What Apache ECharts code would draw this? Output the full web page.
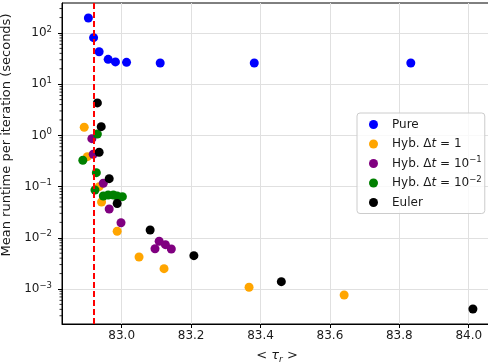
<!DOCTYPE html>
<html><head><meta charset="utf-8">
<script src="https://cdn.jsdelivr.net/npm/echarts@6/dist/echarts.min.js"></script>
<style>html,body{margin:0;padding:0;background:#fff}#c{width:488px;height:362px}</style>
</head><body><div id="c"></div>
<script>
// ---- data ----
const seriesNames = ['Pure', 'Hyb. Δt = 1', 'Hyb. Δt = 10^-1', 'Hyb. Δt = 10^-2', 'Euler'];
const pureX   = [82.904, 82.919, 82.935, 82.961, 82.982, 83.014, 83.111, 83.382, 83.833];
const pureY   = [196, 81, 43, 30.6, 27.2, 26.7, 25.9, 25.9, 25.9];
const hyb1X   = [82.892, 82.901, 82.935, 82.942, 82.987, 83.050, 83.122, 83.367, 83.641];
const hyb1Y   = [1.44, 0.384, 0.0995, 0.050, 0.0134, 0.00422, 0.00249, 0.00108, 0.000764];
const hyb01X  = [82.914, 82.918, 82.947, 82.964, 82.998, 83.096, 83.108, 83.126, 83.143];
const hyb01Y  = [0.863, 0.428, 0.116, 0.0365, 0.0197, 0.00612, 0.00855, 0.00733, 0.00604];
const hyb001X = [82.888, 82.930, 82.927, 82.923, 82.947, 82.961, 82.976, 82.987, 83.002];
const hyb001Y = [0.327, 1.06, 0.187, 0.0856, 0.0655, 0.0686, 0.0686, 0.0655, 0.0636];
const eulerX  = [82.930, 82.941, 82.935, 82.964, 82.987, 83.082, 83.208, 83.460, 84.012];
const eulerY  = [4.3, 1.48, 0.468, 0.1426, 0.0468, 0.0142, 0.00447, 0.00139, 0.000406];
const refLineX = 82.916;
const xTickValues = [83.0, 83.2, 83.4, 83.6, 83.8, 84.0];
const yTickValues = [1e-3, 1e-2, 1e-1, 1e0, 1e1, 1e2];
const colors = ['#0000ff', '#ffa500', '#800080', '#008000', '#000000'];

// ---- axes range ----
const xMin = 82.828, xMax = 84.067;
const yMin = 2.07e-4, yMax = 385;

function pairs(xs, ys) { return xs.map((x, i) => [x, ys[i]]); }
const seriesData = [pairs(pureX, pureY), pairs(hyb1X, hyb1Y), pairs(hyb01X, hyb01Y), pairs(hyb001X, hyb001Y), pairs(eulerX, eulerY)];

// minor tick positions of the log axis (2..9 x 10^k)
const minorTicks = [];
for (let k = -4; k <= 2; k++) for (let m = 2; m <= 9; m++) {
  const v = m * Math.pow(10, k);
  if (v > yMin && v < yMax) minorTicks.push([xMin, v]);
}

const FONT = 'DejaVu Sans';
const TXT = '#1a1a1a';
const legendRich = {
  n: { fontFamily: FONT, fontSize: 12, color: TXT, lineHeight: 16 },
  i: { fontFamily: FONT, fontSize: 12, fontStyle: 'italic', color: TXT, lineHeight: 16 },
  s: { fontFamily: FONT, fontSize: 8.5, color: TXT, lineHeight: 16, verticalAlign: 'top', padding: [0, 0, 7, 0] }
};
function legendLabel(name) {
  if (name === 'Pure' || name === 'Euler') return '{n|' + name + '}';
  const val = name.replace('Hyb. Δt = ', '');
  let tail;
  if (val.indexOf('^') >= 0) {
    const parts = val.split('^');
    tail = '{n| = ' + parts[0] + '}{s|' + parts[1].replace('-', '−') + '}';
  } else tail = '{n| = ' + val + '}';
  return '{n|Hyb. Δ}{i|t}' + tail;
}

const chart = echarts.init(document.getElementById('c'), null, { renderer: 'canvas' });
const series = seriesNames.map((name, idx) => ({
  name, type: 'scatter', data: seriesData[idx], symbol: 'circle', symbolSize: 9,
  itemStyle: { color: colors[idx], opacity: 1 }, z: 3 + idx,
  emphasis: { disabled: true }
}));
series.push({
  name: 'ref', type: 'scatter', data: [], silent: true, z: 10,
  markLine: {
    silent: true, symbol: 'none', label: { show: false },
    lineStyle: { color: '#ff0000', type: [6, 3], width: 2 },
    data: [{ xAxis: refLineX }], animation: false, z: 10
  }
});
series.push({
  name: 'minor', type: 'custom', data: minorTicks, silent: true, clip: false, z: 20,
  renderItem(params, api) {
    const p = api.coord([api.value(0), api.value(1)]);
    return { type: 'line', shape: { x1: p[0] - 2.5, y1: p[1], x2: p[0], y2: p[1] }, style: { stroke: '#000', lineWidth: 0.8 } };
  }
});

chart.setOption({
  animation: false,
  backgroundColor: '#fff',
  grid: { left: 62, top: 3, width: 430, height: 321, show: true, borderColor: '#000', borderWidth: 1,
    backgroundColor: 'transparent', containLabel: false, outerBoundsMode: 'none' },
  xAxis: {
    type: 'value', min: xMin, max: xMax,
    name: '{n|< }{i|τ}{sub|r}{n| >}', nameLocation: 'middle', nameGap: 24,
    nameTextStyle: { rich: {
      n: { fontFamily: FONT, fontSize: 13, color: TXT },
      i: { fontFamily: FONT, fontSize: 13, fontStyle: 'italic', color: TXT },
      sub: { fontFamily: FONT, fontSize: 9, fontStyle: 'italic', color: TXT, verticalAlign: 'bottom', padding: [7, 0, 0, 0] }
    } },
    axisLine: { show: true, onZero: false, lineStyle: { color: '#000', width: 1 } },
    axisTick: { show: true, length: 4, lineStyle: { color: '#000', width: 1 }, customValues: xTickValues },
    axisLabel: { fontFamily: FONT, fontSize: 12, color: TXT, margin: 6, customValues: xTickValues,
      formatter: v => Number(v).toFixed(1) },
    splitLine: { show: true, lineStyle: { color: '#e0e0e0', width: 1 } }
  },
  yAxis: {
    type: 'log', logBase: 10, min: yMin, max: yMax,
    name: 'Mean runtime per iteration (seconds)', nameLocation: 'middle', nameGap: 32,
    nameTextStyle: { fontFamily: FONT, fontSize: 13, color: TXT, padding: [0, 0, 0, 57] },
    axisLine: { show: true, onZero: false, lineStyle: { color: '#000', width: 1 } },
    axisTick: { show: true, length: 4, lineStyle: { color: '#000', width: 1 }, customValues: yTickValues },
    axisLabel: { margin: 10, customValues: yTickValues,
      formatter: v => { const r = Math.round(Math.log10(v));
        return '{b|10}{s|' + String(r).replace('-', '−') + '}'; },
      rich: {
        b: { fontFamily: FONT, fontSize: 12, color: TXT, lineHeight: 16 },
        s: { fontFamily: FONT, fontSize: 8.5, color: TXT, lineHeight: 16, verticalAlign: 'top', padding: [0, 0, 7, 0] }
      } },
    splitLine: { show: true, lineStyle: { color: '#e0e0e0', width: 1 } }
  },
  legend: {
    data: seriesNames.map(n => ({ name: n, icon: 'circle' })),
    orient: 'vertical', left: 357, top: 113,
    itemWidth: 27, itemHeight: 9, itemGap: 3.5,
    padding: [3.5, 3, 3, 12],
    backgroundColor: 'rgba(255,255,255,0.8)', borderColor: '#cccccc', borderWidth: 1, borderRadius: 3,
    selectedMode: false,
    formatter: legendLabel,
    textStyle: { fontFamily: FONT, fontSize: 12, color: TXT, lineHeight: 16, rich: legendRich }
  },
  series
});
</script></body></html>
